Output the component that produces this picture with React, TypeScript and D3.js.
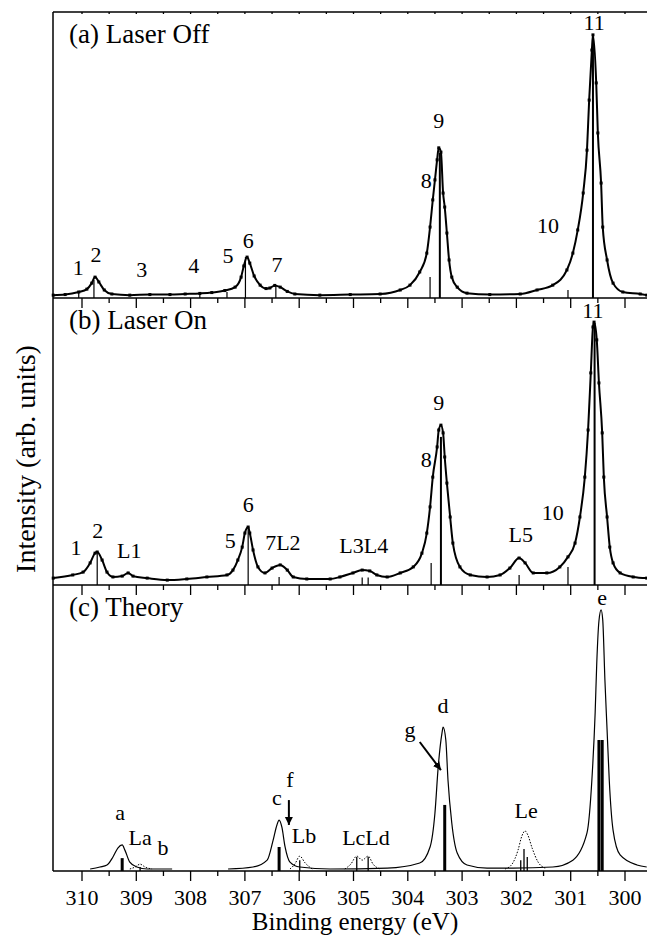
import React from 'react'
import * as d3 from 'd3'

// (a) Laser Off: binding energy (eV) and intensity (arb. units, panel = 100)
const offEnergy = [310.53, 310.31, 310.06, 309.91, 309.82, 309.76, 309.69, 309.59, 309.45, 309.12, 308.75, 308.38, 308.10, 307.83, 307.61, 307.37, 307.18, 307.07, 307.02, 306.96, 306.91, 306.83, 306.72, 306.61, 306.54, 306.45, 306.35, 306.22, 306.08, 305.62, 305.06, 304.51, 304.14, 303.96, 303.78, 303.65, 303.59, 303.54, 303.50, 303.46, 303.43, 303.39, 303.35, 303.32, 303.28, 303.24, 303.19, 303.09, 302.91, 302.49, 301.93, 301.62, 301.33, 301.07, 300.96, 300.87, 300.77, 300.70, 300.66, 300.61, 300.59, 300.53, 300.50, 300.44, 300.41, 300.33, 300.22, 300.04, 299.72, 299.60]
const offIntensity = [1.0, 1.2, 2.1, 3.1, 5.2, 7.3, 5.6, 2.8, 1.4, 1.0, 1.2, 1.2, 1.4, 1.6, 1.9, 2.6, 3.8, 7.3, 11.2, 14.3, 12.2, 7.7, 4.5, 3.3, 3.5, 4.4, 3.8, 2.3, 1.4, 1.0, 1.2, 1.4, 2.8, 4.5, 9.1, 15.7, 24.8, 34.3, 41.3, 48.3, 52.5, 51.0, 36.7, 31.8, 22.7, 13.3, 7.3, 3.8, 1.7, 1.2, 1.4, 2.8, 4.5, 9.8, 15.7, 23.8, 36.7, 51.7, 69.2, 86.7, 92.0, 75.2, 57.7, 40.2, 24.8, 13.3, 5.2, 2.1, 1.4, 1.0]
const offStickEnergy = [310.06, 309.78, 307.83, 307.33, 306.99, 306.43, 303.59, 303.41, 301.05, 300.59]
const offStickHeight = [2.1, 6.3, 2.0, 2.1, 14.3, 4.5, 7.3, 50.7, 2.8, 91.3]
const offLabels: [string, number, number][] = [
  ['1', 310.07, 8.0], ['2', 309.74, 12.6], ['3', 308.9, 7.3], ['4', 307.94, 8.7],
  ['5', 307.31, 12.2], ['6', 306.94, 17.5], ['7', 306.41, 9.1], ['8', 303.66, 38.5],
  ['9', 303.43, 59.4], ['10', 301.42, 22.7], ['11', 300.57, 93.7],
]

// (b) Laser On
const onEnergy = [310.53, 310.17, 309.98, 309.85, 309.76, 309.72, 309.63, 309.54, 309.43, 309.26, 309.15, 309.06, 308.80, 308.43, 308.07, 307.70, 307.33, 307.22, 307.13, 307.05, 307.00, 306.94, 306.91, 306.85, 306.76, 306.63, 306.50, 306.35, 306.22, 306.11, 305.86, 305.43, 305.25, 305.01, 304.84, 304.70, 304.57, 304.38, 304.14, 303.90, 303.74, 303.65, 303.59, 303.54, 303.46, 303.43, 303.39, 303.35, 303.32, 303.28, 303.22, 303.17, 303.04, 302.85, 302.54, 302.30, 302.12, 301.95, 301.84, 301.69, 301.44, 301.20, 301.05, 300.92, 300.83, 300.74, 300.68, 300.63, 300.59, 300.57, 300.52, 300.48, 300.42, 300.39, 300.33, 300.28, 300.22, 300.09, 299.85, 299.60]
const onIntensity = [2.4, 3.5, 4.5, 7.7, 11.1, 11.5, 8.7, 4.5, 2.8, 3.1, 4.2, 3.1, 2.4, 1.7, 2.1, 2.8, 3.5, 5.2, 8.7, 13.2, 18.1, 20.2, 18.1, 12.2, 6.3, 4.2, 5.9, 7.0, 5.2, 2.8, 2.1, 2.1, 2.8, 4.2, 5.2, 4.9, 3.5, 2.8, 4.2, 6.3, 11.1, 18.1, 27.2, 37.6, 48.1, 54.0, 55.7, 53.0, 44.6, 35.5, 23.7, 14.6, 6.3, 3.5, 2.8, 3.5, 5.9, 9.4, 7.7, 4.2, 4.2, 6.3, 9.8, 14.6, 23.7, 37.6, 54.0, 73.9, 89.9, 91.6, 85.4, 70.4, 53.0, 37.6, 23.7, 13.2, 7.7, 4.2, 2.8, 2.4]
const onStickEnergy = [309.72, 306.94, 306.37, 304.84, 304.73, 303.57, 303.39, 301.95, 301.05, 300.56]
const onStickHeight = [11.5, 20.2, 2.8, 2.6, 2.6, 7.7, 51.6, 3.5, 6.3, 91.3]
const onLabels: [string, number, number][] = [
  ['1', 310.11, 10.5], ['2', 309.71, 16.4], ['L1', 309.13, 9.4], ['5', 307.27, 12.9],
  ['6', 306.94, 25.4], ['7L2', 306.3, 12.2], ['L3L4', 304.81, 11.1], ['8', 303.66, 41.1],
  ['9', 303.43, 61.0], ['L5', 301.92, 15.0], ['10', 301.33, 22.6], ['11', 300.59, 93.0],
]

// (c) Theory: ground-state curve (null = not computed), laser-induced curves (dotted)
const theoryEnergy = [309.85, 309.67, 309.54, 309.43, 309.34, 309.26, 309.21, 309.12, 308.99, 308.80, 308.34, 308.0, 307.31, 306.85, 306.59, 306.48, 306.41, 306.37, 306.32, 306.26, 306.17, 305.99, 305.43, 304.38, 303.78, 303.59, 303.50, 303.44, 303.37, 303.35, 303.30, 303.26, 303.19, 303.09, 302.91, 302.54, 302.06, 301.33, 300.96, 300.70, 300.61, 300.55, 300.52, 300.48, 300.44, 300.41, 300.37, 300.33, 300.29, 300.22, 300.09, 299.78, 299.60]
const theoryIntensity = [0.7, 1.4, 2.1, 4.9, 8.0, 9.1, 7.3, 3.1, 1.4, 0.7, 0.7, null, 0.7, 1.4, 3.8, 10.8, 16.1, 17.8, 15.4, 8.4, 3.1, 1.4, 0.7, 1.0, 2.8, 8.4, 20.3, 36.4, 48.3, 50.3, 45.8, 31.8, 16.8, 6.3, 2.1, 1.0, 1.0, 1.4, 3.8, 13.3, 31.8, 55.2, 72.7, 87.4, 91.3, 87.8, 66.8, 49.3, 31.8, 14.3, 5.6, 2.1, 1.4]
const laserEnergy = [309.12, 309.02, 308.93, 308.84, 308.71, 308.5, 306.17, 306.08, 305.99, 305.89, 305.76, 305.5, 305.16, 305.05, 304.94, 304.84, 304.73, 304.64, 304.51, 303.0, 302.21, 302.08, 301.97, 301.90, 301.84, 301.79, 301.71, 301.60, 301.47]
const laserIntensity = [0.7, 1.4, 2.4, 1.4, 0.7, null, 0.7, 2.4, 5.2, 2.8, 0.7, null, 0.7, 2.4, 5.2, 3.8, 5.2, 2.4, 0.7, null, 0.7, 2.4, 7.3, 12.2, 14.0, 12.6, 8.0, 3.1, 1.0]
const groundStickEnergy = [309.26, 306.37, 303.32, 300.48, 300.42]
const groundStickHeight = [4.5, 8.4, 23.1, 45.8, 45.8]
const laserStickEnergy = [308.93, 305.99, 304.94, 304.73, 301.92, 301.86, 301.80]
const laserStickHeight = [1.4, 3.8, 4.9, 4.9, 3.8, 7.7, 4.9]
const theoryLabels: [string, number, number][] = [
  ['a', 309.3, 17.8], ['La', 308.93, 9.1], ['b', 308.51, 5.6], ['c', 306.41, 23.1],
  ['f', 306.17, 29.4], ['Lb', 305.91, 9.8], ['LcLd', 304.77, 9.1], ['g', 303.96, 46.9],
  ['d', 303.35, 55.2], ['Le', 301.82, 18.5], ['e', 300.42, 93.0],
]
// arrows: [energy from, intensity from, energy to, intensity to]
const theoryArrows: [number, number, number, number][] = [
  [306.19, 24.8, 306.19, 16.1],
  [303.78, 45.1, 303.39, 35.3],
]

const panelTitles = ['(a) Laser Off', '(b) Laser On', '(c) Theory']
const xTickLabels = ['310', '309', '308', '307', '306', '305', '304', '303', '302', '301', '300']

const W = 647
const H = 938
const LEFT = 53
const RIGHT = 647
const panels = [
  { top: 12, bottom: 298 },
  { top: 298, bottom: 585 },
  { top: 585, bottom: 871 },
]
const font = '"Liberation Serif", "Times New Roman", serif'

const x = d3.scaleLinear().domain([310, 300]).range([82, 625])
const ys = panels.map(p => d3.scaleLinear().domain([0, 100]).range([p.bottom, p.top]))

const toPts = (es: number[], vs: (number | null)[]) => es.map((e, i) => ({ e, v: vs[i] }))

const Spectrum = ({ es, vs, y }: { es: number[]; vs: number[]; y: d3.ScaleLinear<number, number> }) => {
  const pts = toPts(es, vs)
  const path = d3.line<{ e: number; v: number | null }>()
    .x(d => x(d.e))
    .y(d => y(d.v as number))
    .curve(d3.curveMonotoneX)(pts)
  return (
    <g>
      <path d={path || ''} fill="none" stroke="#000" strokeWidth={2} strokeLinejoin="round" />
      {pts.map((d, i) => (
        <rect key={i} x={x(d.e) - 1.5} y={y(d.v as number) - 1.5} width={3} height={3} fill="#000" />
      ))}
    </g>
  )
}

const Sticks = ({ es, hs, y, thick }: { es: number[]; hs: number[]; y: d3.ScaleLinear<number, number>; thick?: number }) => (
  <g>
    {es.map((e, i) => (
      <line key={i} x1={x(e)} x2={x(e)} y1={y(0)} y2={y(hs[i])} stroke="#000"
        strokeWidth={thick ?? (hs[i] > 30 ? 2 : 1.2)} />
    ))}
  </g>
)

const Labels = ({ items, y }: { items: [string, number, number][]; y: d3.ScaleLinear<number, number> }) => (
  <g fontFamily={font} fontSize={22} textAnchor="middle">
    {items.map(([t, e, v], i) => (
      <text key={i} x={x(e)} y={y(v)}>{t}</text>
    ))}
  </g>
)

export default function App() {
  const ticks = x.ticks(20)
  const yc = ys[2]
  const theoryLine = d3.line<{ e: number; v: number | null }>()
    .defined(d => d.v != null)
    .x(d => x(d.e))
    .y(d => yc(d.v as number))
    .curve(d3.curveMonotoneX)

  return (
    <svg width={W} height={H} style={{ position: 'absolute', left: 0, top: 0, background: '#fff' }}>
      <defs>
        <marker id="head" viewBox="0 0 10 10" refX={10} refY={5} markerWidth={4} markerHeight={5}
          markerUnits="strokeWidth" orient="auto">
          <path d="M0,0 L10,5 L0,10 z" fill="#000" />
        </marker>
      </defs>

      {/* frame */}
      <g stroke="#000" strokeWidth={1.5}>
        <line x1={LEFT} x2={LEFT} y1={panels[0].top} y2={panels[2].bottom} />
        <line x1={LEFT} x2={RIGHT} y1={panels[0].top} y2={panels[0].top} />
        {panels.map((p, i) => (
          <line key={i} x1={LEFT} x2={RIGHT} y1={p.bottom} y2={p.bottom} />
        ))}
      </g>

      {/* ticks */}
      <g stroke="#000" strokeWidth={1.3}>
        {ticks.map((t, i) => (
          <line key={'t' + i} x1={x(t)} x2={x(t)} y1={panels[0].top} y2={panels[0].top + 2} />
        ))}
        {panels.map((p, pi) =>
          ticks.map((t, i) => {
            const major = Number.isInteger(t)
            return (
              <line key={pi + '-' + i} x1={x(t)} x2={x(t)} y1={p.bottom} y2={p.bottom + (major ? 10 : 5)} />
            )
          })
        )}
      </g>

      {/* tick labels */}
      <g fontFamily={font} fontSize={22} textAnchor="middle">
        {xTickLabels.map(t => (
          <text key={t} x={x(+t)} y={905}>{t}</text>
        ))}
      </g>

      {/* panel a */}
      <Sticks es={offStickEnergy} hs={offStickHeight} y={ys[0]} />
      <Spectrum es={offEnergy} vs={offIntensity} y={ys[0]} />
      <Labels items={offLabels} y={ys[0]} />

      {/* panel b */}
      <Sticks es={onStickEnergy} hs={onStickHeight} y={ys[1]} />
      <Spectrum es={onEnergy} vs={onIntensity} y={ys[1]} />
      <Labels items={onLabels} y={ys[1]} />

      {/* panel c */}
      <Sticks es={groundStickEnergy} hs={groundStickHeight} y={yc} thick={3} />
      <Sticks es={laserStickEnergy} hs={laserStickHeight} y={yc} thick={1.3} />
      <path d={theoryLine(toPts(theoryEnergy, theoryIntensity)) || ''} fill="none" stroke="#000" strokeWidth={1.2} />
      <path d={theoryLine(toPts(laserEnergy, laserIntensity)) || ''} fill="none" stroke="#000" strokeWidth={1}
        strokeDasharray="1.5,1.5" />
      <Labels items={theoryLabels} y={yc} />
      {theoryArrows.map(([e0, v0, e1, v1], i) => (
        <line key={i} x1={x(e0)} y1={yc(v0)} x2={x(e1)} y2={yc(v1)} stroke="#000" strokeWidth={2}
          markerEnd="url(#head)" />
      ))}

      {/* panel titles */}
      <g fontFamily={font} fontSize={27}>
        {panelTitles.map((t, i) => (
          <text key={t} x={69} y={panels[i].top + 31}>{t}</text>
        ))}
      </g>

      {/* axis titles */}
      <text x={355} y={930} textAnchor="middle" fontFamily={font} fontSize={25}>Binding energy (eV)</text>
      <text transform="translate(35,459) rotate(-90)" textAnchor="middle" fontFamily={font} fontSize={28}>
        Intensity (arb. units)
      </text>
    </svg>
  )
}
